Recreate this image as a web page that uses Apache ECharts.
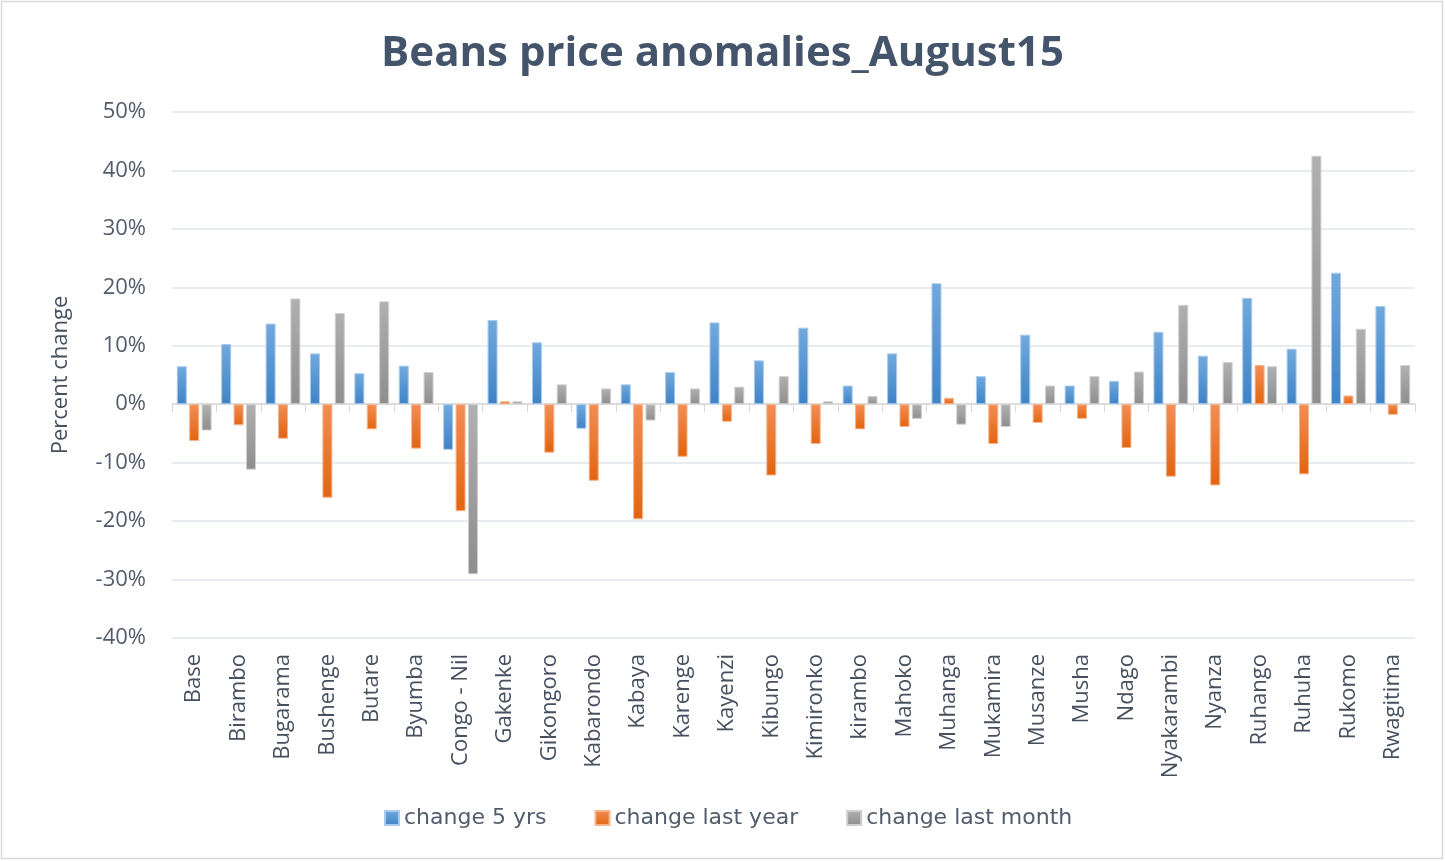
<!DOCTYPE html>
<html>
<head>
<meta charset="utf-8">
<script src="https://cdn.jsdelivr.net/npm/echarts@6/dist/echarts.min.js"></script>
<style>
html,body{margin:0;padding:0;background:#fff;}
#chart{width:1445px;height:861px;}
</style>
</head>
<body>
<div id="chart"></div>
<script>
const categories = ["Base","Birambo","Bugarama","Bushenge","Butare","Byumba","Congo - Nil","Gakenke","Gikongoro","Kabarondo","Kabaya","Karenge","Kayenzi","Kibungo","Kimironko","kirambo","Mahoko","Muhanga","Mukamira","Musanze","Musha","Ndago","Nyakarambi","Nyanza","Ruhango","Ruhuha","Rukomo","Rwagitima"];
const change5yrs = [6.5,10.3,13.8,8.7,5.3,6.6,-7.8,14.4,10.6,-4.2,3.4,5.5,14.0,7.5,13.1,3.2,8.7,20.7,4.8,11.9,3.2,4.0,12.4,8.3,18.2,9.5,22.5,16.8];
const changeLastYear = [-6.3,-3.6,-5.9,-16.0,-4.3,-7.6,-18.3,0.5,-8.3,-13.1,-19.7,-9.0,-3.0,-12.2,-6.8,-4.3,-3.9,1.1,-6.8,-3.2,-2.5,-7.5,-12.4,-13.9,6.7,-12.0,1.5,-1.8];
const changeLastMonth = [-4.5,-11.2,18.1,15.6,17.6,5.5,-29.1,0.5,3.4,2.7,-2.8,2.7,3.0,4.8,0.5,1.4,-2.5,-3.5,-3.9,3.2,4.8,5.6,17.0,7.2,6.5,42.5,12.9,6.7];
const yTicks = {min:-40, max:50, interval:10};

const chart = echarts.init(document.getElementById('chart'));
function grad(top, bottom){
  return new echarts.graphic.LinearGradient(0,0,0,1,[{offset:0,color:top},{offset:1,color:bottom}]);
}
const font = "'Open Sans', sans-serif";
const txt = '#525c6b';
function barSeries(name, data, top, bottom, border){
  return {
    name, type:'bar', data, barWidth:10, barGap:'24%',
    itemStyle:{color:grad(top,bottom), borderColor:border, borderWidth:1},
    emphasis:{disabled:true}
  };
}
chart.setOption({
  backgroundColor:'#fff',
  animation:false,
  title:{
    text:'Beans price anomalies_August15', left:'center', top:28,
    textStyle:{fontFamily:font, fontSize:42, fontWeight:'bold', color:'#44546a'}
  },
  legend:{
    bottom:27, left:379, itemWidth:14, itemHeight:14, itemGap:48,
    icon:'rect',
    textStyle:{fontFamily:"'DejaVu Sans', sans-serif", fontSize:22, color:txt},
    data:['change 5 yrs','change last year','change last month']
  },
  grid:{left:172, right:30, top:112, bottom:223, containLabel:false},
  xAxis:{
    type:'category', data:categories,
    axisLine:{lineStyle:{color:'#d9d9d9', width:1.5}},
    axisTick:{show:true, length:8, lineStyle:{color:'#d9d9d9'}},
    axisLabel:{rotate:90, interval:0, margin:16, fontFamily:font, fontSize:22, color:'#46505f'},
    position:'bottom'
  },
  yAxis:{
    type:'value', min:yTicks.min, max:yTicks.max, interval:yTicks.interval,
    name:'Percent change', nameLocation:'middle', nameGap:100, nameRotate:90,
    nameTextStyle:{fontFamily:font, fontSize:22, color:'#46505f'},
    axisLabel:{formatter:'{value}%', fontFamily:font, fontSize:22, color:txt, margin:26},
    axisLine:{show:false}, axisTick:{show:false},
    splitLine:{lineStyle:{color:'#e1e4ea', width:1.5}}
  },
  series:[
    barSeries('change 5 yrs', change5yrs, '#72a9dd', '#3f83c6', '#a9cbee'),
    barSeries('change last year', changeLastYear, '#f28d55', '#e2650f', '#f6b48c'),
    barSeries('change last month', changeLastMonth, '#b0b0b0', '#8e8e8e', '#cfcfcf')
  ],
  graphic:[{type:'rect', shape:{x:1.5,y:1.5,width:1441,height:857}, style:{fill:'none', stroke:'#d9d9d9', lineWidth:1.5}, silent:true, z:-1}]
});
</script>
</body>
</html>
